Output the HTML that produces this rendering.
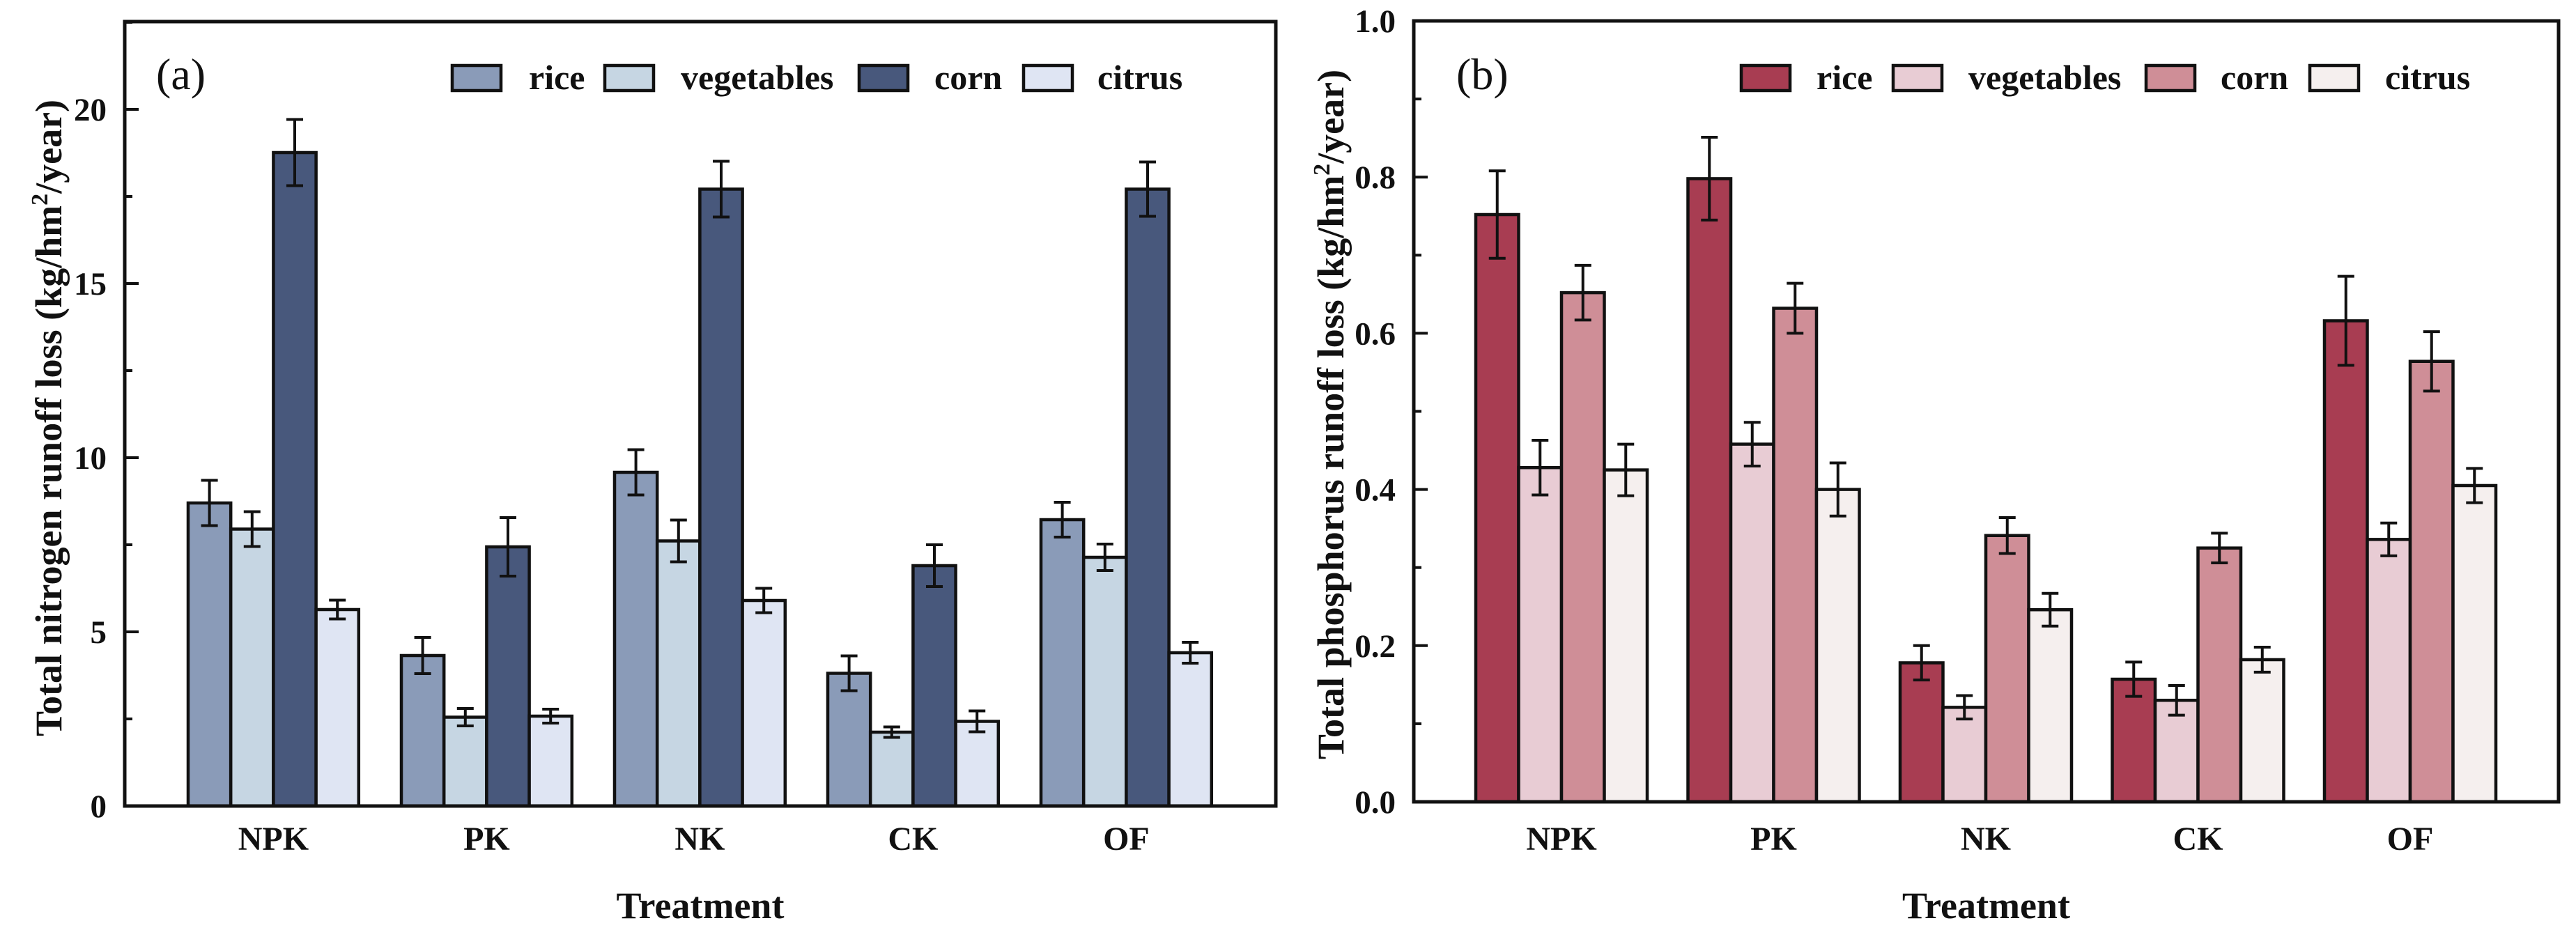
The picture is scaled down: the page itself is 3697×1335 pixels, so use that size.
<!DOCTYPE html>
<html><head><meta charset="utf-8"><style>
html,body{margin:0;padding:0;background:#fff;}
svg{display:block;font-family:"Liberation Serif","Times New Roman",serif;}
</style></head><body>
<svg id="fig" xmlns="http://www.w3.org/2000/svg" width="3697" height="1335" viewBox="0 0 3697 1335">
<rect width="3697" height="1335" fill="#fff"/>
</svg>
<script>
const categories = ["NPK","PK","NK","CK","OF"];
const seriesNames = ["rice","vegetables","corn","citrus"];
const nRice = [8.70,4.32,9.58,3.81,8.22];
const nVeg = [7.95,2.55,7.61,2.12,7.14];
const nCorn = [18.76,7.44,17.71,6.90,17.71];
const nCitrus = [5.64,2.58,5.90,2.43,4.40];
const nRiceErr = [0.65,0.52,0.65,0.50,0.50];
const nVegErr = [0.50,0.25,0.60,0.15,0.38];
const nCornErr = [0.95,0.84,0.80,0.60,0.78];
const nCitrusErr = [0.27,0.20,0.35,0.30,0.30];
const pRice = [0.752,0.798,0.178,0.157,0.616];
const pVeg = [0.428,0.458,0.121,0.130,0.336];
const pCorn = [0.652,0.632,0.341,0.325,0.564];
const pCitrus = [0.425,0.400,0.246,0.182,0.405];
const pRiceErr = [0.056,0.053,0.022,0.022,0.057];
const pVegErr = [0.035,0.028,0.015,0.019,0.021];
const pCornErr = [0.035,0.032,0.023,0.019,0.038];
const pCitrusErr = [0.033,0.034,0.021,0.016,0.022];
const nTicks = ["0","5","10","15","20"];
const pTicks = ["0.0","0.2","0.4","0.6","0.8","1.0"];

const NS="http://www.w3.org/2000/svg";
const svg=document.getElementById('fig');
function mk(tag,attrs,parent){const e=document.createElementNS(NS,tag);for(const k in attrs)e.setAttribute(k,attrs[k]);(parent||svg).appendChild(e);return e;}

function drawPanel(cfg){
  const g=mk('g',{});
  
  
  const L=cfg.left,R=cfg.right,T=cfg.top,B=cfg.bottom;
  const y=v=>B-(v/cfg.max)*(B-T);
  const groupX=i=>cfg.firstX+i*cfg.step;
  const bw=cfg.barW;
  cfg.series.forEach((vals,s)=>{
    vals.forEach((v,i)=>{
      const x=groupX(i)+s*bw;
      const r=mk('rect',{x:x,y:y(v),width:bw,height:B-y(v),fill:cfg.colors[s],stroke:'#111',"stroke-width":4.5},g);
      
      
      const e=cfg.errs[s][i], cx=x+bw/2;
      const eb=mk('path',{d:`M${cx},${y(v+e)}V${y(v-e)}M${cx-12},${y(v+e)}H${cx+12}M${cx-12},${y(v-e)}H${cx+12}`,stroke:'#111',"stroke-width":4,fill:'none'},g);
      
      
    });
  });
  const fr=mk('rect',{x:L,y:T,width:R-L,height:B-T,fill:'none',stroke:'#111',"stroke-width":5},g);
  
  
  cfg.ticks.forEach((t,k)=>{
    const v=k*cfg.tickStep, yy=y(v);
    if(k>0){mk('line',{x1:L,x2:L+20,y1:yy,y2:yy,stroke:'#111',"stroke-width":4},g);}
    const mv=v+cfg.tickStep/2;
    if(mv<cfg.max){mk('line',{x1:L,x2:L+11,y1:y(mv),y2:y(mv),stroke:'#111',"stroke-width":4},g);}
    const tx=mk('text',{x:L-26,y:yy+16,"text-anchor":"end","font-size":47,"font-weight":"bold",fill:'#111'},g);
    tx.textContent=t;
    
    
  });
  categories.forEach((c,i)=>{
    const tx=mk('text',{x:groupX(i)+2*bw,y:1220,"text-anchor":"middle","font-size":48,"font-weight":"bold",fill:'#111'},g);
    tx.textContent=c;
    
    
  });
  const xt=mk('text',{x:(L+R)/2,y:1318,"text-anchor":"middle","font-size":54,"font-weight":"bold",fill:'#111'},g);
  xt.textContent='Treatment';
  
  
  const yt=mk('text',{transform:`translate(${cfg.ytX},${cfg.ytY}) rotate(-90)`,"text-anchor":"middle","font-size":54,"font-weight":"bold",fill:'#111'},g);
  
  
  const t1=mk('tspan',{},yt); t1.textContent=cfg.ytText+' (kg/hm';
  const t2=mk('tspan',{"font-size":34,dy:-20},yt); t2.textContent='2';
  const t3=mk('tspan',{dy:20},yt); t3.textContent='/year)';
  const pl=mk('text',{x:cfg.labX,y:128,"font-size":64,fill:'#111'},g);
  pl.textContent=cfg.label;
  
  
  cfg.legBox.forEach((bx,s)=>{
    const lr=mk('rect',{x:bx,y:94,width:70,height:36,fill:cfg.colors[s],stroke:'#111',"stroke-width":4.5},g);
    
    
    const lt=mk('text',{x:cfg.legText[s],y:128,"font-size":50,"font-weight":"bold",fill:'#111'},g);
    lt.textContent=seriesNames[s];
    
    
  });
}

drawPanel({id:'nitrogen',left:179,right:1831,top:31,bottom:1157,max:22.52,tickStep:5,ticks:nTicks,
  firstX:270,step:306,barW:61.2,
  series:[nRice,nVeg,nCorn,nCitrus],errs:[nRiceErr,nVegErr,nCornErr,nCitrusErr],
  colors:['#8a9bb8','#c6d6e3','#48587c','#dfe5f3'],
  ytX:88,ytY:600,ytText:'Total nitrogen runoff loss',labX:224,label:'(a)',
  legBox:[649,868,1233,1469],legText:[759,977,1341,1575]});
drawPanel({id:'phosphorus',left:2029,right:3672,top:30,bottom:1151,max:1.0,tickStep:0.2,ticks:pTicks,
  firstX:2118,step:304.5,barW:61.5,
  series:[pRice,pVeg,pCorn,pCitrus],errs:[pRiceErr,pVegErr,pCornErr,pCitrusErr],
  colors:['#a83d52','#e8ccd4','#cf8e97','#f5efee'],
  ytX:1928,ytY:595,ytText:'Total phosphorus runoff loss',labX:2090,label:'(b)',
  legBox:[2499,2717,3080,3315],legText:[2607,2825,3187,3423]});
</script>
</body></html>
